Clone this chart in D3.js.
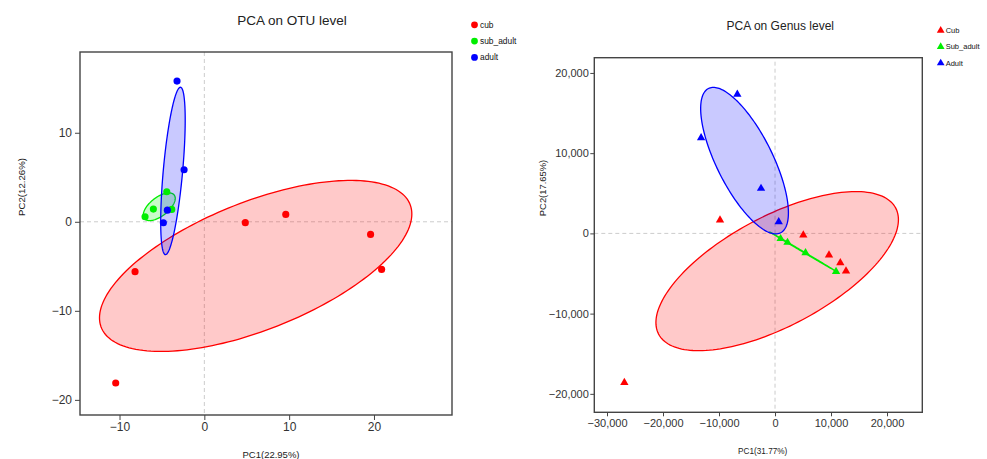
<!DOCTYPE html>
<html>
<head>
<meta charset="utf-8">
<script src="https://cdnjs.cloudflare.com/ajax/libs/d3/7.8.5/d3.min.js"></script>
<style>
  body { margin: 0; background: #fff; }
  svg text { font-family: Arial, "Liberation Sans", sans-serif; fill: #222; }
  .tick line { stroke: #444; }
  .tick text { fill: #333; }
  .legend-text { fill: #111; }
</style>
</head>
<body>
<svg id="pca-chart" width="987" height="459"></svg>
<script>
// groups shared by both panels
const groupColors = ["#ff0000", "#00ee00", "#0000ff"];

// PCA on OTU level (PC1, PC2)
const otuLabels = ["cub", "sub_adult", "adult"];
const otuCub = [[4.83, -0.1], [9.6, 0.83], [19.6, -1.42], [20.9, -5.35], [-8.17, -5.6], [-10.45, -18.1]];
const otuSubAdult = [[-6.99, 0.56], [-6.01, 1.43], [-4.43, 3.37], [-3.84, 1.39]];
const otuAdult = [[-3.22, 15.8], [-2.39, 5.84], [-4.36, 1.31], [-4.83, -0.11]];
const otuXTicks = [-10, 0, 10, 20];
const otuYTicks = [-20, -10, 0, 10];

// PCA on Genus level (PC1, PC2)
const genusLabels = ["Cub", "Sub_adult", "Adult"];
const genusCub = [[-9820, 1660], [5050, -210], [9640, -2700], [11660, -3660], [12680, -4700], [-26900, -18600]];
const genusSubAdult = [[1000, -660], [2230, -1130], [5450, -2420], [10900, -4750]];
const genusAdult = [[-6730, 17330], [-13200, 11900], [-2500, 5600], [660, 1450]];
const genusXTicks = [-30000, -20000, -10000, 0, 10000, 20000];
const genusYTicks = [-20000, -10000, 0, 10000, 20000];

// ellipse radius: chi-square (2 df) at 68%
const ellipseK = Math.sqrt(-2 * Math.log(1 - 0.68));

const svg = d3.select("svg#pca-chart");

function ellipsePoints(pts) {
  const n = pts.length;
  const mx = d3.mean(pts, (d) => d[0]);
  const my = d3.mean(pts, (d) => d[1]);
  let sxx = 0, syy = 0, sxy = 0;
  pts.forEach((d) => {
    sxx += (d[0] - mx) * (d[0] - mx);
    syy += (d[1] - my) * (d[1] - my);
    sxy += (d[0] - mx) * (d[1] - my);
  });
  sxx /= n; syy /= n; sxy /= n;
  const tr = sxx + syy;
  const det = sxx * syy - sxy * sxy;
  const disc = Math.sqrt(Math.max(tr * tr / 4 - det, 0));
  const l1 = tr / 2 + disc;
  const l2 = Math.max(tr / 2 - disc, 0);
  const theta = 0.5 * Math.atan2(2 * sxy, sxx - syy);
  const a = ellipseK * Math.sqrt(l1);
  const b = ellipseK * Math.sqrt(l2);
  return d3.range(0, 2 * Math.PI, Math.PI / 90).map((t) => [
    mx + a * Math.cos(t) * Math.cos(theta) - b * Math.sin(t) * Math.sin(theta),
    my + a * Math.cos(t) * Math.sin(theta) + b * Math.sin(t) * Math.cos(theta),
  ]);
}

function drawPanel(cfg) {
  const g = svg.append("g");
  const x = d3.scaleLinear().domain(cfg.xDomain).range(cfg.xRange);
  const y = d3.scaleLinear().domain(cfg.yDomain).range(cfg.yRange);

  // zero reference lines
  g.append("line")
    .attr("x1", x(0)).attr("x2", x(0))
    .attr("y1", y.range()[1] + cfg.zeroTopGap).attr("y2", y.range()[0])
    .attr("stroke", "#ccc").attr("stroke-dasharray", "4,3");
  g.append("line")
    .attr("x1", x.range()[0]).attr("x2", x.range()[1])
    .attr("y1", y(0)).attr("y2", y(0))
    .attr("stroke", "#ccc").attr("stroke-dasharray", "4,3");

  const line = d3.line().x((d) => x(d[0])).y((d) => y(d[1])).curve(d3.curveLinearClosed);

  // ellipses
  cfg.groups.forEach((pts, i) => {
    g.append("path")
      .attr("d", line(ellipsePoints(pts)))
      .attr("fill", groupColors[i])
      .attr("fill-opacity", 0.21)
      .attr("stroke", groupColors[i])
      .attr("stroke-width", 1.3);
  });

  // samples
  cfg.groups.forEach((pts, i) => {
    g.selectAll(null)
      .data(pts)
      .join("path")
      .attr("transform", (d) => `translate(${x(d[0])},${y(d[1])})`)
      .attr("d", d3.symbol().type(cfg.symbol).size(cfg.symbolSize)())
      .attr("fill", groupColors[i]);
  });

  // frame
  g.append("rect")
    .attr("x", x.range()[0]).attr("y", y.range()[1])
    .attr("width", x.range()[1] - x.range()[0])
    .attr("height", y.range()[0] - y.range()[1])
    .attr("fill", "none").attr("stroke", "#444").attr("stroke-width", 1.4);

  const fmt = cfg.tickFormat;
  g.append("g")
    .attr("transform", `translate(0,${y.range()[0]})`)
    .call(d3.axisBottom(x).tickValues(cfg.xTicks).tickFormat(fmt).tickSize(cfg.tickSize).tickPadding(cfg.xPad))
    .call((a) => a.select(".domain").remove())
    .selectAll("text").style("font-size", cfg.tickFont + "px");
  g.append("g")
    .attr("transform", `translate(${x.range()[0]},0)`)
    .call(d3.axisLeft(y).tickValues(cfg.yTicks).tickFormat(fmt).tickSize(cfg.tickSize).tickPadding(cfg.yPad))
    .call((a) => a.select(".domain").remove())
    .selectAll("text").style("font-size", cfg.tickFont + "px");

  // title and axis titles
  g.append("text")
    .attr("x", cfg.title.x).attr("y", cfg.title.y)
    .attr("text-anchor", "middle").attr("dominant-baseline", "central")
    .style("font-size", cfg.title.size + "px")
    .text(cfg.title.text);
  g.append("text")
    .attr("x", cfg.xLabel.x).attr("y", cfg.xLabel.y)
    .attr("text-anchor", "middle").attr("dominant-baseline", "central")
    .style("font-size", cfg.xLabel.size + "px")
    .text(cfg.xLabel.text);
  g.append("text")
    .attr("transform", `translate(${cfg.yLabel.x},${cfg.yLabel.y}) rotate(-90)`)
    .attr("text-anchor", "middle").attr("dominant-baseline", "central")
    .style("font-size", cfg.yLabel.size + "px")
    .text(cfg.yLabel.text);

  // legend
  const legend = g.append("g").attr("transform", `translate(${cfg.legend.x},${cfg.legend.y})`);
  cfg.labels.forEach((lab, i) => {
    legend.append("path")
      .attr("transform", `translate(0,${i * 16.3})`)
      .attr("d", d3.symbol().type(cfg.symbol).size(cfg.legend.symbolSize)())
      .attr("fill", groupColors[i]);
    legend.append("text")
      .attr("class", "legend-text")
      .attr("x", cfg.legend.textX).attr("y", i * 16.3)
      .attr("dominant-baseline", "central")
      .style("font-size", cfg.legend.size + "px")
      .text(lab);
  });
}

drawPanel({
  groups: [otuCub, otuSubAdult, otuAdult],
  labels: otuLabels,
  xDomain: [-14.66, 29.2], xRange: [80, 452],
  yDomain: [-21.7, 19.07], yRange: [415, 52],
  xTicks: otuXTicks, yTicks: otuYTicks,
  tickFormat: d3.format("d"), tickFont: 12, tickSize: 5, xPad: 2, yPad: 3,
  zeroTopGap: 0,
  symbol: d3.symbolCircle, symbolSize: 40,
  title: { text: "PCA on OTU level", x: 292, y: 20, size: 13.5 },
  xLabel: { text: "PC1(22.95%)", x: 271, y: 454, size: 9.5 },
  yLabel: { text: "PC2(12.26%)", x: 21, y: 187, size: 9.7 },
  legend: { x: 474.5, y: 24.8, textX: 5.5, size: 8.4, symbolSize: 36 },
});

drawPanel({
  groups: [genusCub, genusSubAdult, genusAdult],
  labels: genusLabels,
  xDomain: [-32270, 26300], xRange: [594.3, 922.3],
  yDomain: [-22300, 21900], yRange: [412.3, 57.7],
  xTicks: genusXTicks, yTicks: genusYTicks,
  tickFormat: d3.format(","), tickFont: 11, tickSize: 4, xPad: 3, yPad: 1.5,
  zeroTopGap: 4,
  symbol: d3.symbolTriangle, symbolSize: 30,
  title: { text: "PCA on Genus level", x: 780.3, y: 25.5, size: 12 },
  xLabel: { text: "PC1(31.77%)", x: 762.7, y: 451, size: 8.2 },
  yLabel: { text: "PC2(17.65%)", x: 542.7, y: 188, size: 9.4 },
  legend: { x: 940.7, y: 30.5, textX: 5, size: 7.5, symbolSize: 26 },
});
</script>
</body>
</html>
